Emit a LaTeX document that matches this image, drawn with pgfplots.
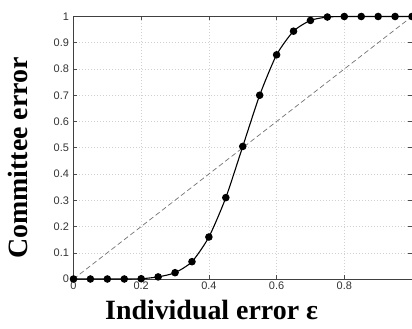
\documentclass[border=0pt]{standalone}
\usepackage{pgfplots}
\pgfplotsset{compat=1.18}
\usepackage{fontspec}
\setmainfont{Liberation Serif}
\newfontfamily\tickfont{Liberation Sans}
\begin{document}
\begin{tikzpicture}
\useasboundingbox (-73.5bp,-50bp) rectangle (338.5bp,279bp);
\begin{axis}[at={(0,0)},anchor=south west,
  width=338.5bp,height=262.5bp,scale only axis,
  xmin=0,xmax=1,ymin=0,ymax=1,
  xtick={0,0.2,0.4,0.6,0.8,1},
  xticklabels={0,0.2,0.4,0.6,0.8,},
  ytick={0,0.1,0.2,0.3,0.4,0.5,0.6,0.7,0.8,0.9,1},
  yticklabels={0,0.1,0.2,0.3,0.4,0.5,0.6,0.7,0.8,0.9,1},
  tick label style={font=\tickfont\fontsize{11}{11}\selectfont, black!80},
  xticklabel style={yshift=1bp},
  yticklabel style={xshift=-1bp},
  tick align=inside, major tick length=4bp,
  every tick/.style={black!70, line width=0.5pt},
  axis line style={black!75, line width=0.7pt},
  grid=major, grid style={dash pattern=on 1bp off 2bp, black!18, line width=0.5pt},
  clip=false,
  xlabel={\textbf{Individual error ε}},
  xlabel style={at={(rel axis cs:0.408,-0.156)}, anchor=base, font=\fontsize{28}{28}\selectfont},
  ylabel={\textbf{Committee error}},
  ylabel style={at={(rel axis cs:-0.164,0.461)}, anchor=center, font=\fontsize{28}{28}\selectfont},
]
\addplot[black!55, dash pattern=on 5bp off 3bp, line width=0.7pt, forget plot] coordinates {(0,0) (1,1)};
\addplot[black, line width=1.1pt, smooth, tension=0.4, mark=*, mark size=3.2bp,
  mark options={fill=black}] coordinates {
(0,0) (0.05,0) (0.1,0) (0.15,0) (0.2,0.001) (0.25,0.008) (0.3,0.024)
(0.35,0.066) (0.4,0.16) (0.45,0.31) (0.5,0.505) (0.55,0.70) (0.6,0.854)
(0.65,0.944) (0.7,0.985) (0.75,0.998) (0.8,1) (0.85,1) (0.9,1) (0.95,1) (1,1)};
\end{axis}
\end{tikzpicture}
\end{document}
